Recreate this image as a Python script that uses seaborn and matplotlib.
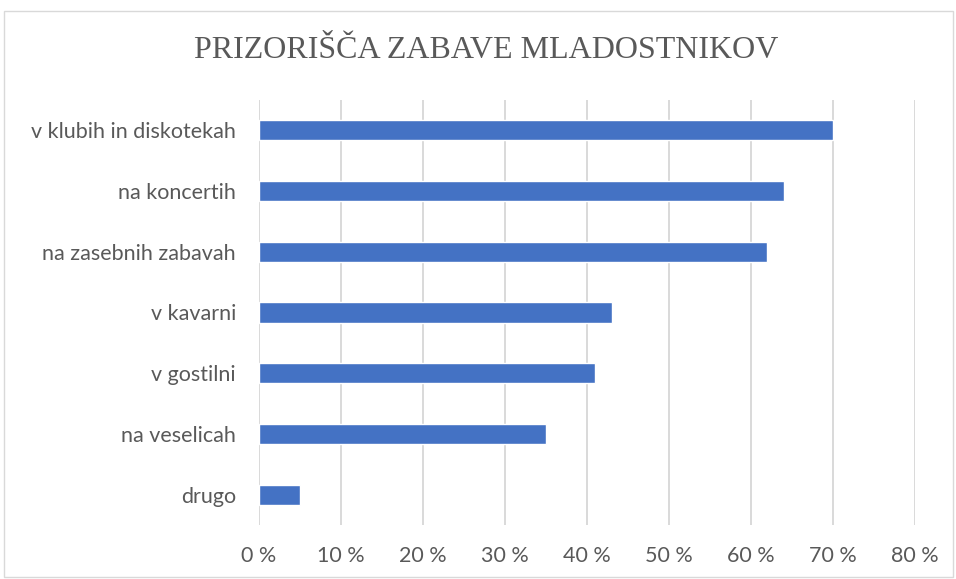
import matplotlib
matplotlib.use("Agg")
import matplotlib.pyplot as plt
import seaborn as sns
import pandas as pd
from matplotlib.patches import Rectangle
from matplotlib.ticker import FuncFormatter

# podatki
categories = ["v klubih in diskotekah", "na koncertih", "na zasebnih zabavah",
              "v kavarni", "v gostilni", "na veselicah", "drugo"]
values = [70, 64, 62, 43, 41, 35, 5]

df = pd.DataFrame({"prizorisce": categories, "delez": values})

sns.set_theme(style="white")
plt.rcParams['font.family'] = ['Lato', 'DejaVu Sans']

fig = plt.figure(figsize=(9.56, 5.79), dpi=100)
ax = fig.add_axes([259 / 956, 1 - 525 / 579, (915 - 259) / 956, (525 - 100) / 579])

sns.barplot(data=df, x="delez", y="prizorisce", orient="h", color="#4472C4",
            width=0.33, saturation=1, ax=ax)

ax.set_xlim(0, 80)
ax.set_ylim(6.5, -0.5)
ax.set_xticks(range(0, 81, 10))
ax.xaxis.set_major_formatter(FuncFormatter(lambda v, p: f"{int(v)} %"))
ax.grid(axis="x", color="#d9d9d9", linewidth=1.4)
ax.set_axisbelow(True)
for s in ax.spines.values():
    s.set_visible(False)
ax.set_xlabel("")
ax.set_ylabel("")
ax.tick_params(axis="both", length=0, labelsize=15.5, colors="#595959")
ax.tick_params(axis="y", pad=16.5)
ax.tick_params(axis="x", pad=15)

fig.text(486 / 956, 1 - 50 / 579, "PRIZORIŠČA ZABAVE MLADOSTNIKOV", ha="center", va="center",
         fontsize=23, color="#595959", family=["Liberation Serif", "DejaVu Serif"])

# okvir grafikona
fig.patches.append(Rectangle((4 / 956, 2 / 579), 949 / 956, 566 / 579, transform=fig.transFigure,
                             fill=False, edgecolor="#d9d9d9", linewidth=1))

fig.savefig("out.png", dpi=100)
